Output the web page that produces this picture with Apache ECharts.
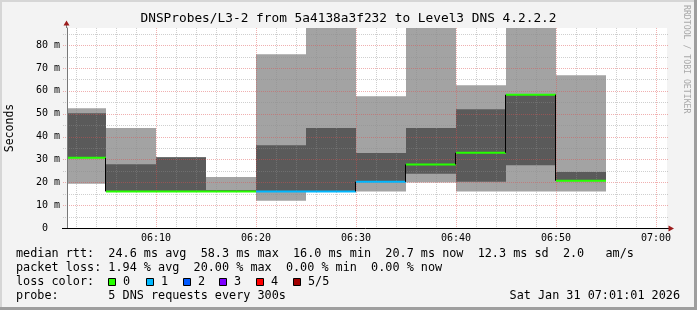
<!DOCTYPE html>
<html>
<head>
<meta charset="utf-8">
<script src="https://cdn.jsdelivr.net/npm/echarts@6/dist/echarts.min.js"></script>
<style>
html,body{margin:0;padding:0;background:#f3f3f3;}
#c{width:697px;height:310px;}
</style>
</head>
<body>
<div id="c"></div>
<script>
// ---------- data (minutes after 06:00, rtt in ms) ----------
const stepStart = [0, 5, 10, 15, 20, 25, 30, 35, 40, 45, 50];
const stepLength = 5;
const rttMin    = [19.4, 16.0, 16.0, 16.0, 11.9, 16.0, 16.0, 19.9, 16.0, 16.0, 16.0];
const rttLow    = [30.7, 16.0, 16.0, 16.0, 16.0, 16.0, 20.2, 23.7, 20.2, 27.5, 20.7];
const rttMedian = [30.7, 16.0, 16.0, 16.0, 16.0, 16.0, 20.2, 27.8, 32.9, 58.3, 20.7];
const rttHigh   = [50.2, 27.9, 31.0, 16.6, 36.2, 43.7, 32.8, 43.7, 52.0, 58.3, 24.5];
const rttMax    = [52.4, 43.7, 31.0, 22.3, 76.0, 95.0, 57.6, 95.0, 62.4, 95.0, 66.8];
const lossCount = [0, 0, 0, 0, 1, 1, 1, 0, 0, 0, 0];

const xMajor = [10, 20, 30, 40, 50, 60];
const xTickLabels = ['06:10', '06:20', '06:30', '06:40', '06:50', '07:00'];
const xMinor = [2, 4, 6, 8, 12, 14, 16, 18, 22, 24, 26, 28, 32, 34, 36, 38, 42, 44, 46, 48, 52, 54, 56, 58];
const yMajor = [0, 10, 20, 30, 40, 50, 60, 70, 80];
const yTickLabels = ['0  ', '10 m', '20 m', '30 m', '40 m', '50 m', '60 m', '70 m', '80 m'];
const yMinor = [5, 15, 25, 35, 45, 55, 65, 75, 85];

const lossColors = ['#26ff00', '#00b8ff', '#0059ff', '#7e00ff', '#ff0000', '#a10000'];
const lossLabels = ['0', '1', '2', '3', '4', '5/5'];

const titleText = 'DNSProbes/L3-2 from 5a4138a3f232 to Level3 DNS 4.2.2.2';
const yAxisTitle = 'Seconds';
const legendLines = [
  'median rtt:  24.6 ms avg  58.3 ms max  16.0 ms min  20.7 ms now  12.3 ms sd  2.0   am/s',
  'packet loss: 1.94 % avg  20.00 % max  0.00 % min  0.00 % now',
  'loss color:',
  'probe:       5 DNS requests every 300s'
];
const dateText = 'Sat Jan 31 07:01:01 2026';
const watermark = 'RRDTOOL / TOBI OETIKER';

// ---------- styling ----------
const MONO = '"DejaVu Sans Mono", monospace';
const LIGHT = '#a3a3a3';
const DARK = '#5a5a5a';
const GRID_MINOR = 'rgba(140,140,140,0.42)';
const GRID_MAJOR = 'rgba(222,80,80,0.45)';

const smokeData = stepStart.map((s, i) => [s, rttMin[i], rttLow[i], rttHigh[i], rttMax[i]]);
const medianData = stepStart.map((s, i) => [s, rttMedian[i], lossCount[i]]);
const vGridData = xMinor.map(v => [v, 0, 0]).concat(xMajor.map(v => [v, 0, 1]));
const hGridData = yMinor.map(v => [0, v, 0]).concat(yMajor.filter(v => v > 0).map(v => [0, v, 1]));

function csRect(cs) { return {x: cs.x, y: cs.y, width: cs.width, height: cs.height}; }

function smokeItem(params, api) {
  const x0 = api.value(0), x1 = x0 + stepLength;
  const cs = csRect(params.coordSys);
  function rect(lo, hi, fill) {
    const a = api.coord([x0, hi]), b = api.coord([x1, lo]);
    const shape = echarts.graphic.clipRectByRect(
      {x: a[0], y: a[1], width: b[0] - a[0], height: b[1] - a[1]}, cs);
    return shape ? {type: 'rect', shape: shape, style: {fill: fill}} : null;
  }
  return {type: 'group', children: [
    rect(api.value(1), api.value(4), LIGHT),
    rect(api.value(2), api.value(3), DARK)
  ].filter(Boolean)};
}

function medianItem(params, api) {
  const i = params.dataIndex;
  const cs = params.coordSys;
  const x0 = api.value(0), x1 = x0 + stepLength, m = api.value(1);
  const a = api.coord([x0, m]), b = api.coord([x1, m]);
  const left = Math.max(a[0], cs.x);
  const children = [];
  if (i > 0 && rttMedian[i - 1] !== m) {
    const p = api.coord([x0, rttMedian[i - 1]]);
    children.push({type: 'line', shape: {x1: Math.round(a[0]) - 0.5, y1: p[1], x2: Math.round(a[0]) - 0.5, y2: a[1]},
      style: {stroke: '#000', lineWidth: 1}});
  }
  children.push({type: 'line', shape: {x1: left, y1: a[1], x2: b[0], y2: a[1]},
    style: {stroke: lossColors[api.value(2)], lineWidth: 2}});
  return {type: 'group', children: children};
}

function vGridItem(params, api) {
  const cs = params.coordSys;
  const x = Math.round(api.coord([api.value(0), 0])[0]) + 0.5;
  return {type: 'line', shape: {x1: x, y1: cs.y, x2: x, y2: cs.y + cs.height + 2},
    style: {stroke: api.value(2) ? GRID_MAJOR : GRID_MINOR, lineWidth: 1, lineDash: [1, 1]}};
}

function hGridItem(params, api) {
  const cs = params.coordSys;
  const y = Math.round(api.coord([0, api.value(1)])[1]) + 0.5;
  return {type: 'line', shape: {x1: cs.x - 4, y1: y, x2: cs.x + cs.width + 1, y2: y},
    style: {stroke: api.value(2) ? GRID_MAJOR : GRID_MINOR, lineWidth: 1, lineDash: [1, 1]}};
}

const chart = echarts.init(document.getElementById('c'), null, {renderer: 'canvas', width: 697, height: 310});

const graphics = [
  // frame
  {type: 'rect', shape: {x: 0, y: 0, width: 697, height: 2}, style: {fill: '#d6d6d6'}, silent: true},
  {type: 'rect', shape: {x: 0, y: 0, width: 2, height: 310}, style: {fill: '#d6d6d6'}, silent: true},
  {type: 'rect', shape: {x: 694, y: 0, width: 3, height: 310}, style: {fill: '#9e9e9e'}, silent: true},
  {type: 'rect', shape: {x: 0, y: 307, width: 697, height: 3}, style: {fill: '#9e9e9e'}, silent: true},
  // title
  {type: 'text', x: 348.5, y: 19, style: {text: titleText, font: '12.8px ' + MONO, fill: '#000', align: 'center', verticalAlign: 'middle'}},
  // y axis title
  {type: 'text', x: 10, y: 128, rotation: Math.PI / 2, style: {text: yAxisTitle, font: '11.5px ' + MONO, fill: '#000', align: 'center', verticalAlign: 'middle'}},
  // watermark
  {type: 'text', x: 686.5, y: 5, rotation: -Math.PI / 2, style: {text: watermark, font: '8.2px ' + MONO, fill: '#a8a8a8', align: 'left', verticalAlign: 'middle'}},
  // axis extensions and arrows
  {type: 'line', z: 20, shape: {x1: 66.5, y1: 25, x2: 66.5, y2: 28}, style: {stroke: '#777', lineWidth: 1}},
  {type: 'polygon', z: 20, shape: {points: [[63.5, 25.5], [69.5, 25.5], [66.5, 20.5]]}, style: {fill: '#9b1c1c'}},
  {type: 'line', z: 20, shape: {x1: 62, y1: 228.5, x2: 669, y2: 228.5}, style: {stroke: '#000', lineWidth: 1}},
  {type: 'polygon', z: 20, shape: {points: [[668.5, 225.5], [668.5, 231.5], [674, 228.5]]}, style: {fill: '#9b1c1c'}},
  // date
  {type: 'text', x: 680, y: 296, style: {text: dateText, font: '11.8px ' + MONO, fill: '#000', align: 'right', verticalAlign: 'middle'}}
];
const lineY = [254, 268, 282, 296];
legendLines.forEach((t, i) => {
  graphics.push({type: 'text', x: 16, y: lineY[i], style: {text: t, font: '11.8px ' + MONO, fill: '#000', align: 'left', verticalAlign: 'middle'}});
});
const boxX = [108, 145.7, 182.7, 219.3, 256.3, 293.3];
lossLabels.forEach((t, i) => {
  graphics.push({type: 'rect', shape: {x: Math.round(boxX[i]) + 0.5, y: 278.5, width: 7, height: 7},
    style: {fill: lossColors[i], stroke: '#000', lineWidth: 1}});
  graphics.push({type: 'text', x: Math.round(boxX[i]) + 15, y: 282, style: {text: t, font: '11.8px ' + MONO, fill: '#000', align: 'left', verticalAlign: 'middle'}});
});

chart.setOption({
  animation: false,
  backgroundColor: '#f3f3f3',
  grid: {left: 67, top: 28, width: 600, height: 200, show: true, backgroundColor: '#ffffff', borderWidth: 0},
  xAxis: {
    type: 'value', min: 1.1, max: 61.1, z: 10,
    axisLine: {show: false},
    splitLine: {show: false},
    axisTick: {show: false},
    axisLabel: {customValues: xMajor, formatter: v => xTickLabels[xMajor.indexOf(v)], margin: 5,
      fontFamily: MONO, fontSize: 10, color: '#000'}
  },
  yAxis: {
    type: 'value', min: 0, max: 87.5, z: 10,
    axisLine: {show: true, lineStyle: {color: '#777', width: 1}},
    splitLine: {show: false},
    axisTick: {show: false},
    axisLabel: {customValues: yMajor, formatter: v => yTickLabels[yMajor.indexOf(v)], margin: 7,
      fontFamily: MONO, fontSize: 10, color: '#000'}
  },
  series: [
    {type: 'custom', name: 'smoke', z: 2, renderItem: smokeItem, data: smokeData, encode: {x: 0, y: [1, 2, 3, 4]}, silent: true},
    {type: 'custom', name: 'vgrid', z: 3, renderItem: vGridItem, data: vGridData, encode: {x: 0, y: 1}, silent: true, clip: false},
    {type: 'custom', name: 'hgrid', z: 3, renderItem: hGridItem, data: hGridData, encode: {x: 0, y: 1}, silent: true, clip: false},
    {type: 'custom', name: 'median', z: 4, renderItem: medianItem, data: medianData, encode: {x: 0, y: 1}, silent: true}
  ],
  graphic: graphics
});
</script>
</body>
</html>
